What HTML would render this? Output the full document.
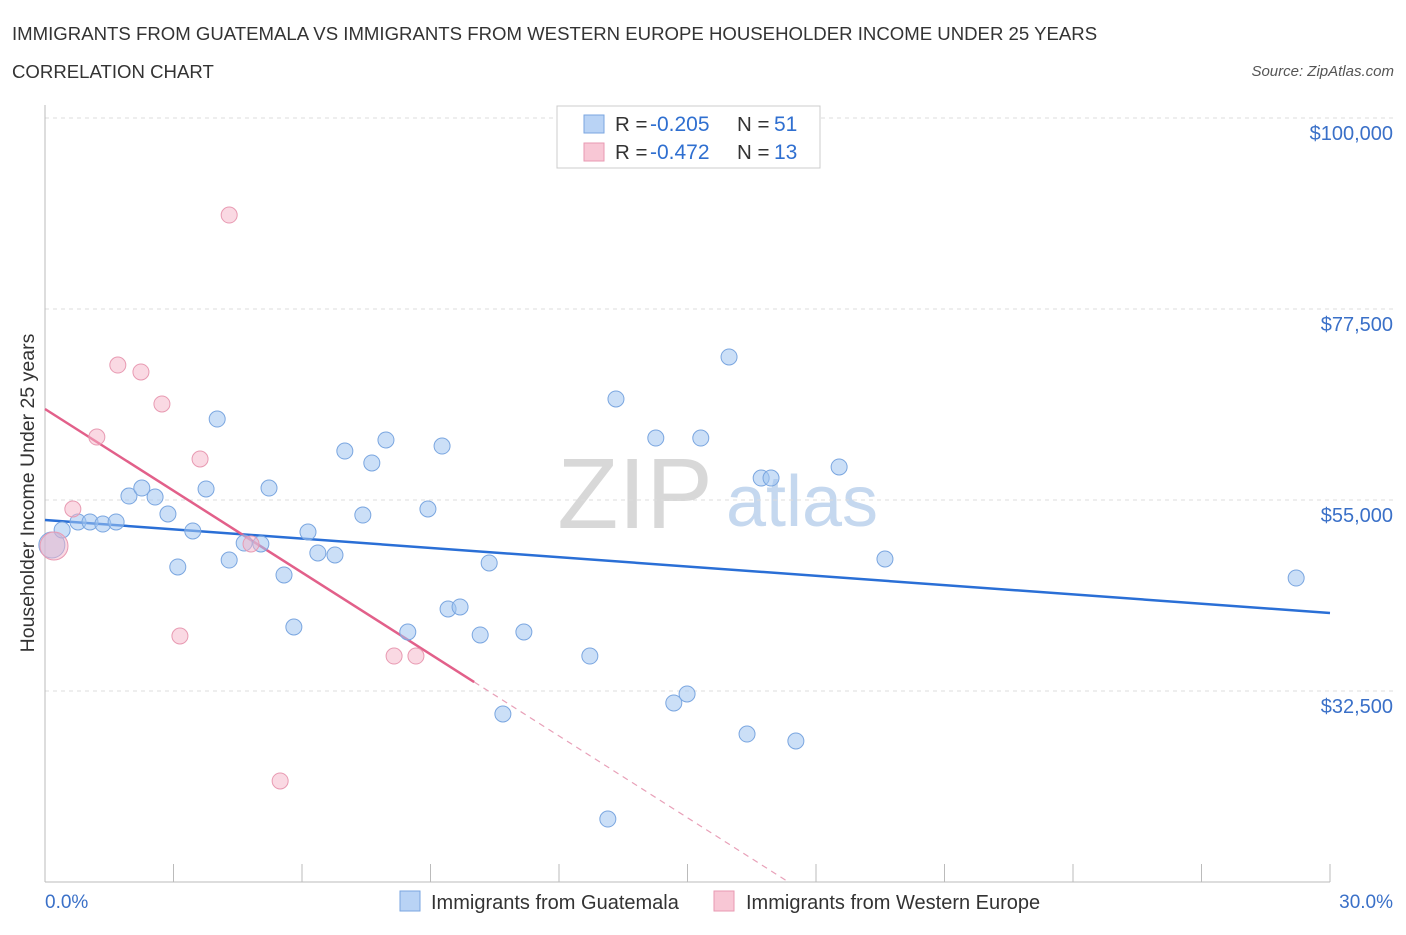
<!DOCTYPE html>
<html><head><meta charset="utf-8"><style>
body{margin:0;background:#fff;font-family:"Liberation Sans",sans-serif;}
svg text{font-family:"Liberation Sans",sans-serif;}
</style></head><body>
<svg id="chart" width="1406" height="930">
<text x="12" y="40" font-size="18.6" fill="#333">IMMIGRANTS FROM GUATEMALA VS IMMIGRANTS FROM WESTERN EUROPE HOUSEHOLDER INCOME UNDER 25 YEARS</text>
<text x="12" y="78" font-size="18.6" fill="#333">CORRELATION CHART</text>
<text x="1394" y="76" font-size="15" fill="#555" text-anchor="end" font-style="italic">Source: ZipAtlas.com</text>
<text x="635" y="528" font-size="100" fill="#d8d8d8" font-family="Liberation Serif" text-anchor="middle">ZIP</text>
<text x="802" y="526" font-size="72" fill="#c5d8ef" text-anchor="middle">atlas</text>
<g id="grid"></g><g id="axes"></g><g id="lines"></g><g id="pts"></g>
<text transform="translate(34,493) rotate(-90)" font-size="19.5" fill="#333" text-anchor="middle">Householder Income Under 25 years</text>
<text x="45" y="908" font-size="19" fill="#3a70c8">0.0%</text>
<text x="1393" y="908" font-size="19" fill="#3a70c8" text-anchor="end">30.0%</text>
<g>
<rect x="557" y="106" width="263" height="62" fill="#fff" stroke="#ccc"/>
<rect x="584" y="115" width="20" height="18" fill="#b9d3f5" stroke="#7aa6e0"/>
<text x="615" y="131" font-size="20.5" fill="#333">R =</text>
<text x="650" y="131" font-size="21" fill="#2f6fd0">-0.205</text>
<text x="737" y="131" font-size="20.5" fill="#333">N =</text>
<text x="774" y="131" font-size="21" fill="#2f6fd0">51</text>
<rect x="584" y="143" width="20" height="18" fill="#f8c7d5" stroke="#e89ab2"/>
<text x="615" y="159" font-size="20.5" fill="#333">R =</text>
<text x="650" y="159" font-size="21" fill="#2f6fd0">-0.472</text>
<text x="737" y="159" font-size="20.5" fill="#333">N =</text>
<text x="774" y="159" font-size="21" fill="#2f6fd0">13</text>
</g>
<g>
<rect x="400" y="891" width="20" height="20" fill="#b9d3f5" stroke="#7aa6e0"/>
<text x="431" y="909" font-size="20" fill="#333">Immigrants from Guatemala</text>
<rect x="714" y="891" width="20" height="20" fill="#f8c7d5" stroke="#e89ab2"/>
<text x="746" y="909" font-size="20" fill="#333">Immigrants from Western Europe</text>
</g>
</svg>
<script>
const yTicks=[32500,55000,77500,100000];
const yTickLabels=["$32,500","$55,000","$77,500","$100,000"];
const blueX=[0.16,0.40,0.77,1.05,1.35,1.66,1.96,2.26,2.57,2.87,3.10,3.45,3.76,4.02,4.30,4.65,5.04,5.23,5.58,5.81,6.14,6.37,6.77,7.00,7.42,7.63,7.96,8.47,8.94,9.27,9.41,9.69,10.16,10.37,10.69,11.18,12.72,13.14,13.33,14.26,14.68,14.99,15.31,15.97,16.39,16.72,16.95,17.53,18.54,19.61,29.21];
const blueY=[49700,51470,52410,52410,52170,52410,55470,56410,55350,53350,47110,51350,56300,64540,47930,49930,49820,56410,46170,40040,51230,48760,48520,60770,53230,59360,62070,39450,53940,61360,42160,42400,39100,47580,29790,39450,36620,17420,66900,62300,31090,32150,62300,71850,27430,57590,57590,26610,58890,48050,45810];
const pinkX=[0.21,0.65,1.21,1.70,2.24,2.73,3.15,3.62,4.30,4.81,5.49,8.15,8.66];
const pinkY=[49580,53940,62420,70900,70080,66310,38980,59830,88570,49820,21900,36620,36620];
const blueTrend=[52640,41690];
const pinkTrend=[65720,-3210];
const NS="http://www.w3.org/2000/svg";
const X=v=>45+v/30*1285, Y=v=>500-(v-55000)*191/22500;
const Yinv=py=>55000+(500-py)*22500/191;
function mk(t,a,p){const e=document.createElementNS(NS,t);for(const k in a)e.setAttribute(k,a[k]);document.getElementById(p).appendChild(e);return e;}
yTicks.forEach((t,i)=>{const l=mk('line',{x1:45,x2:1394,y1:Y(t),y2:Y(t),stroke:'#ddd','stroke-dasharray':'4,4'},'grid');


const tx=mk('text',{x:1393,y:Y(t)+22,'font-size':20,fill:'#3a70c8','text-anchor':'end'},'grid');tx.textContent=yTickLabels[i];

});
mk('line',{x1:45,x2:45,y1:105,y2:882,stroke:'#bbb'},'axes');
mk('line',{x1:45,x2:1330,y1:882,y2:882,stroke:'#bbb'},'axes');
for(let i=0;i<=10;i++){const t=mk('line',{x1:X(i*3),x2:X(i*3),y1:864,y2:882,stroke:'#bbb'},'axes');

}
const bl=mk('line',{x1:X(0),y1:Y(blueTrend[0]),x2:X(30),y2:Y(blueTrend[1]),stroke:'#2a6fd6','stroke-width':2.5},'lines');


const pe=10.02, pv=x=>pinkTrend[0]+pinkTrend[1]*x;
const xEnd=(Yinv(882)-pinkTrend[0])/pinkTrend[1];
const pl=mk('line',{x1:X(0),y1:Y(pv(0)),x2:X(pe),y2:Y(pv(pe)),stroke:'#e2608a','stroke-width':2.5},'lines');


const pd=mk('line',{x1:X(pe),y1:Y(pv(pe)),x2:X(xEnd),y2:Y(pv(xEnd)),stroke:'#e8a0b8','stroke-width':1.2,'stroke-dasharray':'6,5'},'lines');


blueX.forEach((x,i)=>{const c=mk('circle',{cx:X(x),cy:Y(blueY[i]),r:i==0?13:8,fill:'rgba(160,196,240,0.55)',stroke:'#7aa6e0','stroke-width':1},'pts');

});
pinkX.forEach((x,i)=>{const c=mk('circle',{cx:X(x),cy:Y(pinkY[i]),r:i==0?14:8,fill:'rgba(246,180,200,0.5)',stroke:'#e89ab2','stroke-width':1},'pts');

});
</script>
</body></html>
